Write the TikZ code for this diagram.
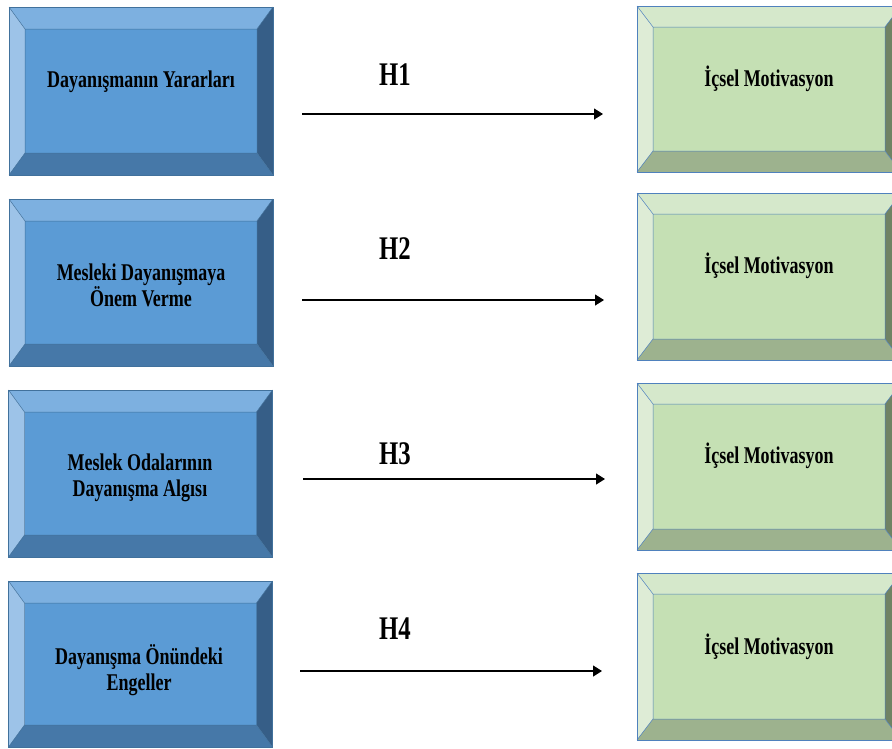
\documentclass[tikz,border=0pt]{standalone}
\usepackage{fontspec}
\newfontfamily\boxfont{Liberation Serif}[FakeStretch=0.75]
\usetikzlibrary{arrows.meta,calc}
\definecolor{bF}{RGB}{91,155,213}
\definecolor{bT}{RGB}{125,176,224}
\definecolor{bL}{RGB}{157,195,232}
\definecolor{bR}{RGB}{54,94,135}
\definecolor{bB}{RGB}{70,120,168}
\definecolor{bO}{RGB}{65,113,156}
\definecolor{gF}{RGB}{197,224,180}
\definecolor{gT}{RGB}{213,232,203}
\definecolor{gL}{RGB}{222,236,214}
\definecolor{gR}{RGB}{112,131,100}
\definecolor{gB}{RGB}{157,178,142}
\definecolor{gO}{RGB}{79,129,189}
\newcommand\bevfill[4]{%
 \coordinate (#1-inw) at ($(#1.north west)+(#3,#4)$);
 \coordinate (#1-ine) at ($(#1.north east)+(-#3,#4)$);
 \coordinate (#1-ise) at ($(#1.south east)+(-#3,-#4)$);
 \coordinate (#1-isw) at ($(#1.south west)+(#3,-#4)$);
 \fill[#2T] (#1.north west) -- (#1.north east) -- (#1-ine) -- (#1-inw) -- cycle;
 \fill[#2L] (#1.north west) -- (#1-inw) -- (#1-isw) -- (#1.south west) -- cycle;
 \fill[#2R] (#1.north east) -- (#1.south east) -- (#1-ise) -- (#1-ine) -- cycle;
 \fill[#2B] (#1.south west) -- (#1-isw) -- (#1-ise) -- (#1.south east) -- cycle;
 \fill[#2F] (#1-inw) rectangle (#1-ise);
 \draw[#2O, line width=0.5pt] (#1-inw) rectangle (#1-ise)
   (#1.north west) -- (#1-inw) (#1.north east) -- (#1-ine)
   (#1.south east) -- (#1-ise) (#1.south west) -- (#1-isw);
 \draw[#2O, line width=0.9pt] (#1.north west) rectangle (#1.south east);
}
\tikzset{
 boxshape/.style={rectangle, inner sep=0pt, outer sep=0pt, minimum width=264pt, minimum height=#1},
 boxtext/.style={font=\boxfont\bfseries\fontsize{24}{26}\selectfont, align=center, inner sep=0pt},
 hlabel/.style={font=\boxfont\bfseries\fontsize{33}{36}\selectfont, inner sep=0pt},
 hyparrow/.style={line width=1.2pt, -{Triangle[length=9pt,width=11pt]}}
}
\begin{document}
\begin{tikzpicture}[x=1pt,y=-1pt]
\useasboundingbox (0,0) rectangle (892,748);
\clip (0,0) rectangle (892,748);
\fill[white] (0,0) rectangle (892,748);
% left boxes
\node[boxshape=168pt] (b1) at (141,91) {};
\node[boxshape=167pt] (b2) at (141,282.5) {};
\node[boxshape=167pt] (b3) at (140.5,473.5) {};
\node[boxshape=166pt] (b4) at (140.5,664) {};
\bevfill{b1}{b}{16}{22}
\bevfill{b2}{b}{16}{22}
\bevfill{b3}{b}{16}{22}
\bevfill{b4}{b}{16}{22}
% right boxes
\node[boxshape=166pt] (g1) at (769,89) {};
\node[boxshape=167pt] (g2) at (769,276.5) {};
\node[boxshape=167pt] (g3) at (769,466.5) {};
\node[boxshape=167pt] (g4) at (769,656.5) {};
\bevfill{g1}{g}{16}{21}
\bevfill{g2}{g}{16}{21}
\bevfill{g3}{g}{16}{21}
\bevfill{g4}{g}{16}{21}
% texts
\node[boxtext, anchor=base] (t1) at (141,87) {Dayanışmanın Yararları};
\node[boxtext] (t2) at (141,285) {Mesleki Dayanışmaya\\Önem Verme};
\node[boxtext] (t3) at (140,478) {Meslek Odalarının\\Dayanışma Algısı};
\node[boxtext] (t4) at (139,670) {Dayanışma Önündeki\\Engeller};
\node[boxtext, anchor=base] (u1) at (769,86.5) {İçsel Motivasyon};
\node[boxtext, anchor=base] (u2) at (769,273) {İçsel Motivasyon};
\node[boxtext, anchor=base] (u3) at (769,463) {İçsel Motivasyon};
\node[boxtext, anchor=base] (u4) at (769,654) {İçsel Motivasyon};
% arrows
\coordinate (a1s) at (302,114); \coordinate (a1e) at (603,114);
\coordinate (a2s) at (302,300); \coordinate (a2e) at (604,300);
\coordinate (a3s) at (303,479); \coordinate (a3e) at (605,479);
\coordinate (a4s) at (300,671); \coordinate (a4e) at (602,671);
\draw[hyparrow] (a1s) -- (a1e);
\draw[hyparrow] (a2s) -- (a2e);
\draw[hyparrow] (a3s) -- (a3e);
\draw[hyparrow] (a4s) -- (a4e);
\node[hlabel] (h1) at (395,75) {H1};
\node[hlabel] (h2) at (395,249) {H2};
\node[hlabel] (h3) at (395,454) {H3};
\node[hlabel] (h4) at (395,629) {H4};
\end{tikzpicture}
\end{document}
